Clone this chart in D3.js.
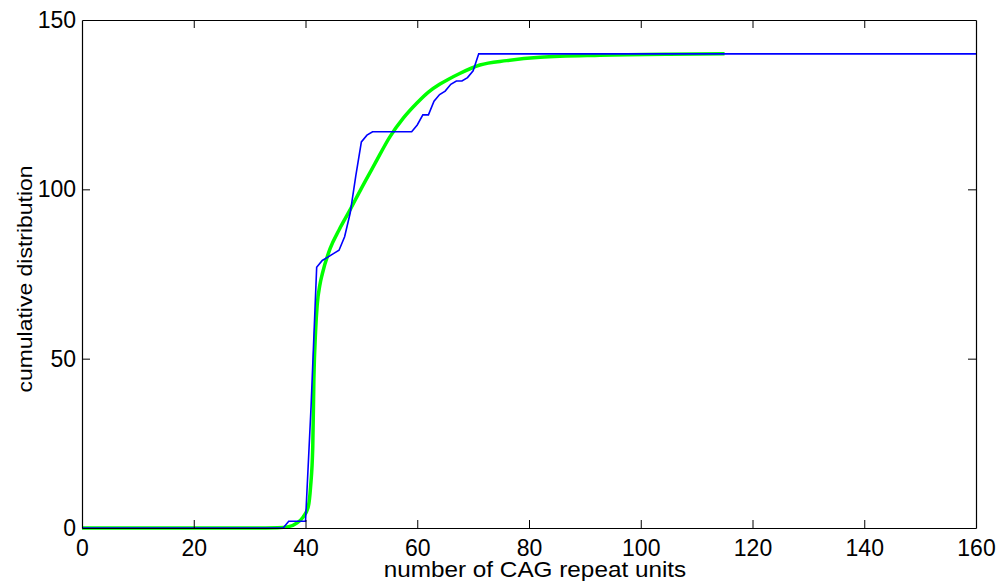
<!DOCTYPE html>
<html lang="en">
<head>
<meta charset="utf-8">
<title>CAG repeat cumulative distribution</title>
<script src="https://d3js.org/d3.v7.min.js"></script>
<style>
  body { margin: 0; background: #fff; }
  text { font-family: "Liberation Sans", Arial, sans-serif; fill: #000; }
</style>
</head>
<body>
<script>
var blueX = [0, 36, 37, 40, 41, 42, 43, 44, 45, 46, 47, 48, 49, 50, 51, 52,
             59, 60, 61, 62, 63, 64, 65, 66, 67, 68, 69, 70, 71, 160];
var blueY = [0, 0, 2, 2, 36, 77, 79, 80, 81, 82, 86, 93, 104, 114, 116, 117,
             117, 119, 122, 122, 126, 128, 129, 131, 132, 132, 133, 135, 140, 140];

// fitted curve (green)
var greenX = [0, 30, 35, 37, 38.5, 39.6, 40.5, 40.9, 41.3, 41.5, 41.8, 42.1, 42.6, 43,
              44.4, 46, 48, 50, 52.4, 55.1, 57.5, 59.9, 62, 64, 65.6, 67.6, 71.2, 76,
              82, 92.7, 105, 115];
var greenY = [0, 0, 0.1, 0.4, 1.5, 3.3, 6.3, 12, 24, 44, 58, 66, 72, 75,
              82.5, 88, 94, 100.3, 107.5, 115.5, 121, 125.4, 128.7, 131, 132.5, 134.2, 136.7, 138,
              139, 139.6, 139.9, 140];

var xTicks = [0, 20, 40, 60, 80, 100, 120, 140, 160];
var yTicks = [0, 50, 100, 150];

var W = 1003, H = 581;
var margin = {left: 82, right: 27, top: 20, bottom: 53};

var svg = d3.select("body").append("svg")
    .attr("width", W)
    .attr("height", H);

var x = d3.scaleLinear().domain([0, 160]).range([margin.left, W - margin.right]);
var y = d3.scaleLinear().domain([0, 150]).range([H - margin.bottom, margin.top]);

var line = d3.line()
    .x(function(d) { return x(d[0]); })
    .y(function(d) { return y(d[1]); });

var green = d3.zip(greenX, greenY);
var blue = d3.zip(blueX, blueY);

svg.append("path")
    .attr("d", line.curve(d3.curveMonotoneX)(green))
    .attr("fill", "none")
    .attr("stroke", "#00ff00")
    .attr("stroke-width", 3.5)
    .attr("stroke-linejoin", "round");

svg.append("path")
    .attr("d", line.curve(d3.curveLinear)(blue))
    .attr("fill", "none")
    .attr("stroke", "#0000ff")
    .attr("stroke-width", 1.6);

// axes, matlab style: inward ticks on all four sides
var fs = 23;
var tl = 8;

svg.append("g")
    .attr("transform", "translate(0," + y(0) + ")")
    .call(d3.axisBottom(x).tickValues(xTicks).tickSizeInner(-tl).tickSizeOuter(0))
    .call(function(g) { g.selectAll("text").attr("y", 28).attr("dy", 0); });

svg.append("g")
    .attr("transform", "translate(0," + y(150) + ")")
    .call(d3.axisTop(x).tickValues(xTicks).tickSizeInner(-tl).tickSizeOuter(0).tickFormat(""));

svg.append("g")
    .attr("transform", "translate(" + x(0) + ",0)")
    .call(d3.axisLeft(y).tickValues(yTicks).tickSizeInner(-tl).tickSizeOuter(0).tickPadding(6));

svg.append("g")
    .attr("transform", "translate(" + x(160) + ",0)")
    .call(d3.axisRight(y).tickValues(yTicks).tickSizeInner(-tl).tickSizeOuter(0).tickFormat(""));

svg.selectAll(".domain").attr("stroke", "#000").attr("stroke-width", 1.2);
svg.selectAll(".tick line").attr("stroke", "#000");
svg.selectAll(".tick text")
    .style("font-size", fs + "px")
    .style("font-family", "'Liberation Sans', Arial, sans-serif")
    .attr("fill", "#000");

// hide ticks sitting on the frame corners
svg.selectAll(".tick").filter(function(d) { return d === 0 || d === 160 || d === 150; })
    .select("line").attr("stroke", "none");

// axis labels, slightly wide glyphs like the original
function stretch(sel, k) {
    sel.each(function() {
        var n = this.getComputedTextLength();
        d3.select(this).attr("textLength", n * k).attr("lengthAdjust", "spacingAndGlyphs");
    });
}

svg.append("text")
    .attr("x", (x(0) + x(160)) / 2 + 6)
    .attr("y", 577)
    .attr("text-anchor", "middle")
    .style("font-size", "21.5px")
    .text("number of CAG repeat units")
    .call(stretch, 1.13);

svg.append("text")
    .attr("transform", "translate(32," + (y(75) + 5) + ") rotate(-90)")
    .attr("text-anchor", "middle")
    .style("font-size", "20.5px")
    .text("cumulative distribution")
    .call(stretch, 1.12);
</script>
</body>
</html>
